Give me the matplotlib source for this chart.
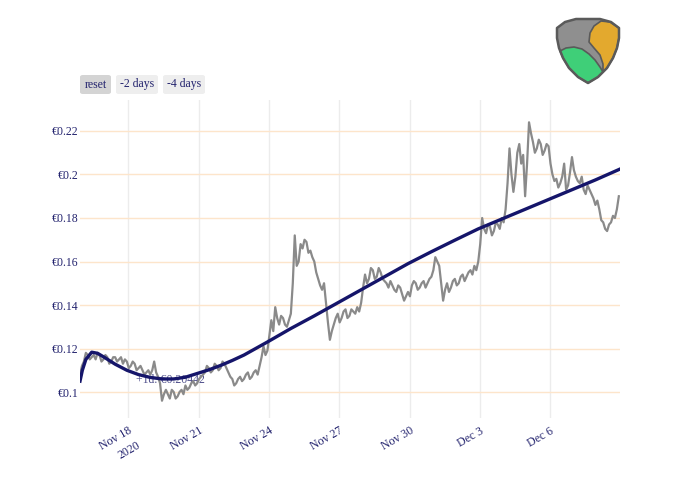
import pandas as pd
import matplotlib.pyplot as plt
from matplotlib.patches import FancyBboxPatch, Polygon

plt.rcParams['font.family'] = ['Liberation Serif', 'DejaVu Serif']

# price every 2 hours
price = [0.108, 0.112, 0.114, 0.118, 0.117, 0.115, 0.116, 0.117, 0.115, 0.118,
         0.117, 0.114, 0.115, 0.117, 0.116, 0.113, 0.114, 0.116, 0.116, 0.114,
         0.115, 0.116, 0.113, 0.115, 0.114, 0.111, 0.112, 0.114, 0.113, 0.110,
         0.111, 0.112, 0.110, 0.108, 0.109, 0.110, 0.108, 0.110, 0.114, 0.109,
         0.107, 0.104, 0.096, 0.099, 0.101, 0.099, 0.097, 0.101, 0.100, 0.097,
         0.098, 0.100, 0.101, 0.099, 0.103, 0.101, 0.102, 0.104, 0.105, 0.103,
         0.104, 0.106, 0.107, 0.108, 0.109, 0.112, 0.111, 0.109, 0.110, 0.113,
         0.112, 0.110, 0.111, 0.114, 0.113, 0.111, 0.109, 0.107, 0.106, 0.103,
         0.104, 0.106, 0.107, 0.105, 0.106, 0.108, 0.109, 0.106, 0.107, 0.109,
         0.110, 0.108, 0.112, 0.116, 0.121, 0.117, 0.119, 0.126, 0.133, 0.128,
         0.139, 0.134, 0.131, 0.135, 0.134, 0.131, 0.130, 0.133, 0.136, 0.150,
         0.172, 0.158, 0.160, 0.168, 0.166, 0.170, 0.169, 0.164, 0.165, 0.162,
         0.160, 0.155, 0.152, 0.149, 0.147, 0.150, 0.141, 0.132, 0.124, 0.128,
         0.131, 0.134, 0.136, 0.132, 0.134, 0.137, 0.138, 0.134, 0.135, 0.138,
         0.137, 0.136, 0.139, 0.137, 0.141, 0.148, 0.154, 0.150, 0.152, 0.157,
         0.156, 0.152, 0.153, 0.157, 0.155, 0.152, 0.151, 0.150, 0.148, 0.151,
         0.149, 0.147, 0.146, 0.149, 0.148, 0.145, 0.142, 0.144, 0.146, 0.144,
         0.149, 0.151, 0.150, 0.147, 0.148, 0.150, 0.151, 0.148, 0.150, 0.152,
         0.153, 0.156, 0.162, 0.160, 0.158, 0.150, 0.142, 0.147, 0.150, 0.146,
         0.148, 0.151, 0.152, 0.149, 0.150, 0.153, 0.154, 0.151, 0.153, 0.155,
         0.156, 0.154, 0.158, 0.156, 0.160, 0.168, 0.180, 0.175, 0.173, 0.177,
         0.176, 0.172, 0.174, 0.178, 0.177, 0.175, 0.180, 0.178, 0.184, 0.196,
         0.212, 0.200, 0.192, 0.199, 0.210, 0.214, 0.205, 0.209, 0.190, 0.205,
         0.224, 0.219, 0.215, 0.210, 0.212, 0.216, 0.214, 0.209, 0.211, 0.214,
         0.213, 0.205, 0.200, 0.197, 0.198, 0.194, 0.196, 0.199, 0.205, 0.193,
         0.195, 0.201, 0.208, 0.202, 0.199, 0.197, 0.196, 0.199, 0.193, 0.191,
         0.195, 0.193, 0.191, 0.189, 0.186, 0.188, 0.184, 0.179, 0.178, 0.175,
         0.174, 0.177, 0.178, 0.181, 0.180, 0.184, 0.190]
start = pd.Timestamp('2020-11-15 22:20')
times = pd.date_range(start, periods=len(price), freq='2h')

# fitted trend (days after start, value)
trend_days = [0, 0.1, 0.25, 0.5, 0.75, 1.0, 1.5, 2.0, 2.5, 3.0, 3.5, 4.0, 4.5, 5.0,
              5.5, 6.0, 6.5, 7, 8, 9, 10, 11, 12, 13, 14, 15, 16, 17, 18, 19,
              20, 21, 22, 23.05]
trend_vals = [0.105, 0.110, 0.115, 0.1183, 0.1178, 0.1162, 0.1128, 0.1100, 0.1080,
              0.1067, 0.1060, 0.1060, 0.1068, 0.1085, 0.1102, 0.1122, 0.1145, 0.1170,
              0.1230, 0.1292, 0.1350, 0.1410, 0.1470, 0.1530, 0.1590, 0.1645, 0.1698,
              0.1750, 0.1795, 0.1840, 0.1885, 0.1930, 0.1975, 0.2025]
trend_times = [start + pd.Timedelta(days=d) for d in trend_days]

forecast_label = '+1d: €0.20442'
yticks = [0.10, 0.12, 0.14, 0.16, 0.18, 0.20, 0.22]
ytick_labels = ['€0.1', '€0.12', '€0.14', '€0.16', '€0.18', '€0.2', '€0.22']
xticks = pd.date_range('2020-11-18', '2020-12-06', freq='3D')
xtick_labels = ['Nov 18\n2020', 'Nov 21', 'Nov 24', 'Nov 27', 'Nov 30', 'Dec 3', 'Dec 6']

navy = '#23236e'

fig = plt.figure(figsize=(7, 5), dpi=100)
ax = fig.add_axes([80 / 700, 82 / 500, 540 / 700, 318 / 500])

ax.plot(times, price, color='#8a8a8a', linewidth=1.6, zorder=2)
ax.plot(trend_times, trend_vals, color='#15156a', linewidth=2.4, zorder=3)
ax.text(start + pd.Timedelta(days=3.85), 0.1055, forecast_label, color=navy,
        alpha=0.8, fontsize=8.5, ha='center', va='center', zorder=1.5)

ax.set_xlim(start, start + pd.Timedelta(days=23.05))
ax.set_ylim(0.08805, 0.23425)
ax.set_yticks(yticks)
ax.set_yticklabels(ytick_labels)
ax.set_xticks(xticks)
ax.set_xticklabels(xtick_labels, rotation=30, ha='right', rotation_mode='anchor')
for t in ax.get_xticklabels():
    t.set_linespacing(1.5)
ax.tick_params(length=0, labelsize=8.5, labelcolor=navy)
ax.tick_params(axis='x', pad=5)
ax.tick_params(axis='y', pad=1)
for s in ax.spines.values():
    s.set_visible(False)
ax.grid(axis='y', color='#fde5cb', linewidth=1)
ax.grid(axis='x', color='#ececec', linewidth=1)
ax.set_axisbelow(True)

# range buttons
buttons = [('reset', 80, 111, '#d4d4d4'), ('-2 days', 116, 158, '#eeeeee'),
           ('-4 days', 163, 205, '#eeeeee')]
for label, x0, x1, bg in buttons:
    fig.patches.append(FancyBboxPatch((x0 / 700, 1 - 94 / 500), (x1 - x0) / 700, 19 / 500,
                                      boxstyle='round,pad=0,rounding_size=0.004',
                                      transform=fig.transFigure, facecolor=bg,
                                      edgecolor='none'))
    fig.text((x0 + x1) / 2 / 700, 1 - 84.5 / 500, label, color=navy, fontsize=8.5,
             ha='center', va='center')

# logo
lax = fig.add_axes([554 / 700, 1 - 85 / 500, 68 / 700, 68 / 500])
lax.set_xlim(554, 622)
lax.set_ylim(85, 17)
lax.axis('off')
shield = [(557, 28), (565, 22), (576, 19), (588, 19), (600, 19), (611, 22), (619, 28),
          (619, 38), (617, 48), (613, 58), (607, 68), (598, 77), (588, 83), (578, 77),
          (569, 68), (563, 58), (559, 48), (557, 38)]
orange = [(589, 42), (590, 33), (594, 26), (601, 21), (610, 22), (619, 28), (619, 38),
          (617, 48), (613, 58), (607, 68), (603, 72), (603, 64), (600, 55), (594, 48)]
green = [(560, 51), (566, 48), (574, 47), (582, 49), (589, 54), (595, 60), (600, 67),
         (603, 72), (598, 77), (588, 83), (578, 77), (569, 68), (563, 58)]
lax.add_patch(Polygon(shield, closed=True, facecolor='#8f8f8f', edgecolor='none'))
lax.add_patch(Polygon(orange, closed=True, facecolor='#e3a92e', edgecolor='#5a5a5a',
                      linewidth=1.2, joinstyle='round'))
lax.add_patch(Polygon(green, closed=True, facecolor='#3fcf78', edgecolor='#5a5a5a',
                      linewidth=1.2, joinstyle='round'))
lax.add_patch(Polygon(shield, closed=True, facecolor='none', edgecolor='#5a5a5a',
                      linewidth=1.8, joinstyle='round'))

plt.savefig('out.png', dpi=100)
